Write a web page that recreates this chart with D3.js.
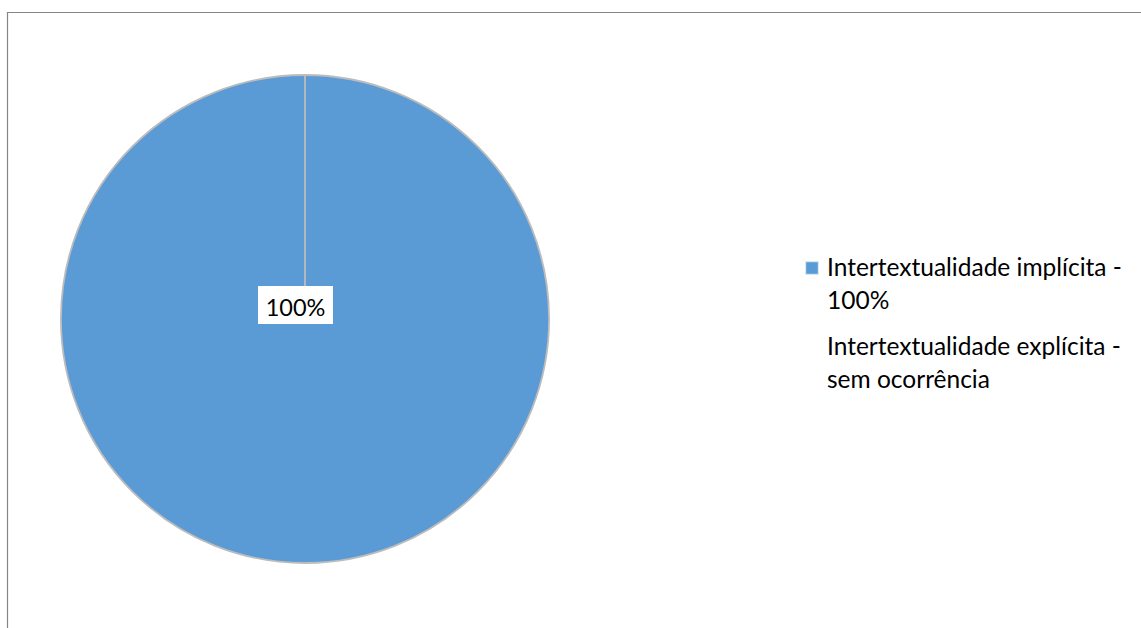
<!DOCTYPE html>
<html>
<head>
<meta charset="utf-8">
<script src="https://cdn.jsdelivr.net/npm/d3@7"></script>
<style>
  html, body { margin: 0; padding: 0; background: #fff; }
  svg { display: block; }
  text { font-family: Lato, "Open Sans", sans-serif; fill: #000; }
</style>
</head>
<body>
<div id="chart"></div>
<script>
// données du graphique
const categories = ['Intertextualidade implícita', 'Intertextualidade explícita'];
const values = [100, 0];
const legendLines = [
  ['Intertextualidade implícita -', '100%'],
  ['Intertextualidade explícita -', 'sem ocorrência']
];
const colors = ['#5b9bd5', 'none'];

const width = 1141, height = 628;

const svg = d3.select('#chart').append('svg')
  .attr('width', width)
  .attr('height', height);

// cadre du graphique (seulement haut et gauche visibles)
svg.append('path')
  .attr('d', `M7.5,${height} L7.5,12.5 L${width},12.5`)
  .attr('fill', 'none')
  .attr('stroke', '#868686')
  .attr('stroke-width', 1.2);

const cx = 305, cy = 319, radius = 244;

const pie = d3.pie().sort(null).value(d => d);
const arcs = pie(values);
const arc = d3.arc().innerRadius(0).outerRadius(radius);

const g = svg.append('g').attr('transform', `translate(${cx},${cy})`);

g.selectAll('path.slice')
  .data(arcs)
  .enter()
  .append('path')
  .attr('class', 'slice')
  .attr('d', arc)
  .attr('fill', (d, i) => colors[i] === 'none' ? 'none' : colors[i])
  .attr('stroke', '#bcbcbc')
  .attr('stroke-width', 1.8);

// étiquette de données
const total = d3.sum(values);
const fmt = d => `${Math.round(d / total * 100)}%`;
const labelData = arcs.filter(d => d.value > 0);

const labels = g.selectAll('g.label')
  .data(labelData)
  .enter()
  .append('g')
  .attr('class', 'label')
  .attr('transform', 'translate(-10,-13)');

labels.append('rect')
  .attr('x', -37)
  .attr('y', -20)
  .attr('width', 75)
  .attr('height', 38)
  .attr('fill', '#fff');

labels.append('text')
  .attr('text-anchor', 'middle')
  .attr('x', 0.5)
  .attr('y', 10)
  .style('font-size', '23.5px')
  .text(d => fmt(d.value));

// légende
const legend = svg.append('g').attr('transform', 'translate(806,262)');

const items = legend.selectAll('g.item')
  .data(categories)
  .enter()
  .append('g')
  .attr('class', 'item')
  .attr('transform', (d, i) => `translate(0,${i * 79})`);

items.append('rect')
  .attr('width', 12)
  .attr('height', 12)
  .attr('fill', (d, i) => colors[i])
  .attr('stroke', (d, i) => colors[i] === 'none' ? 'none' : '#9fc3e6')
  .attr('stroke-width', 0.8);

items.each(function(d, i) {
  const t = d3.select(this).append('text')
    .attr('x', 21)
    .attr('y', 14)
    .style('font-size', '24.5px');
  legendLines[i].forEach((line, j) => {
    t.append('tspan')
      .attr('x', 21)
      .attr('dy', j === 0 ? 0 : 33)
      .text(line);
  });
});
</script>
</body>
</html>
